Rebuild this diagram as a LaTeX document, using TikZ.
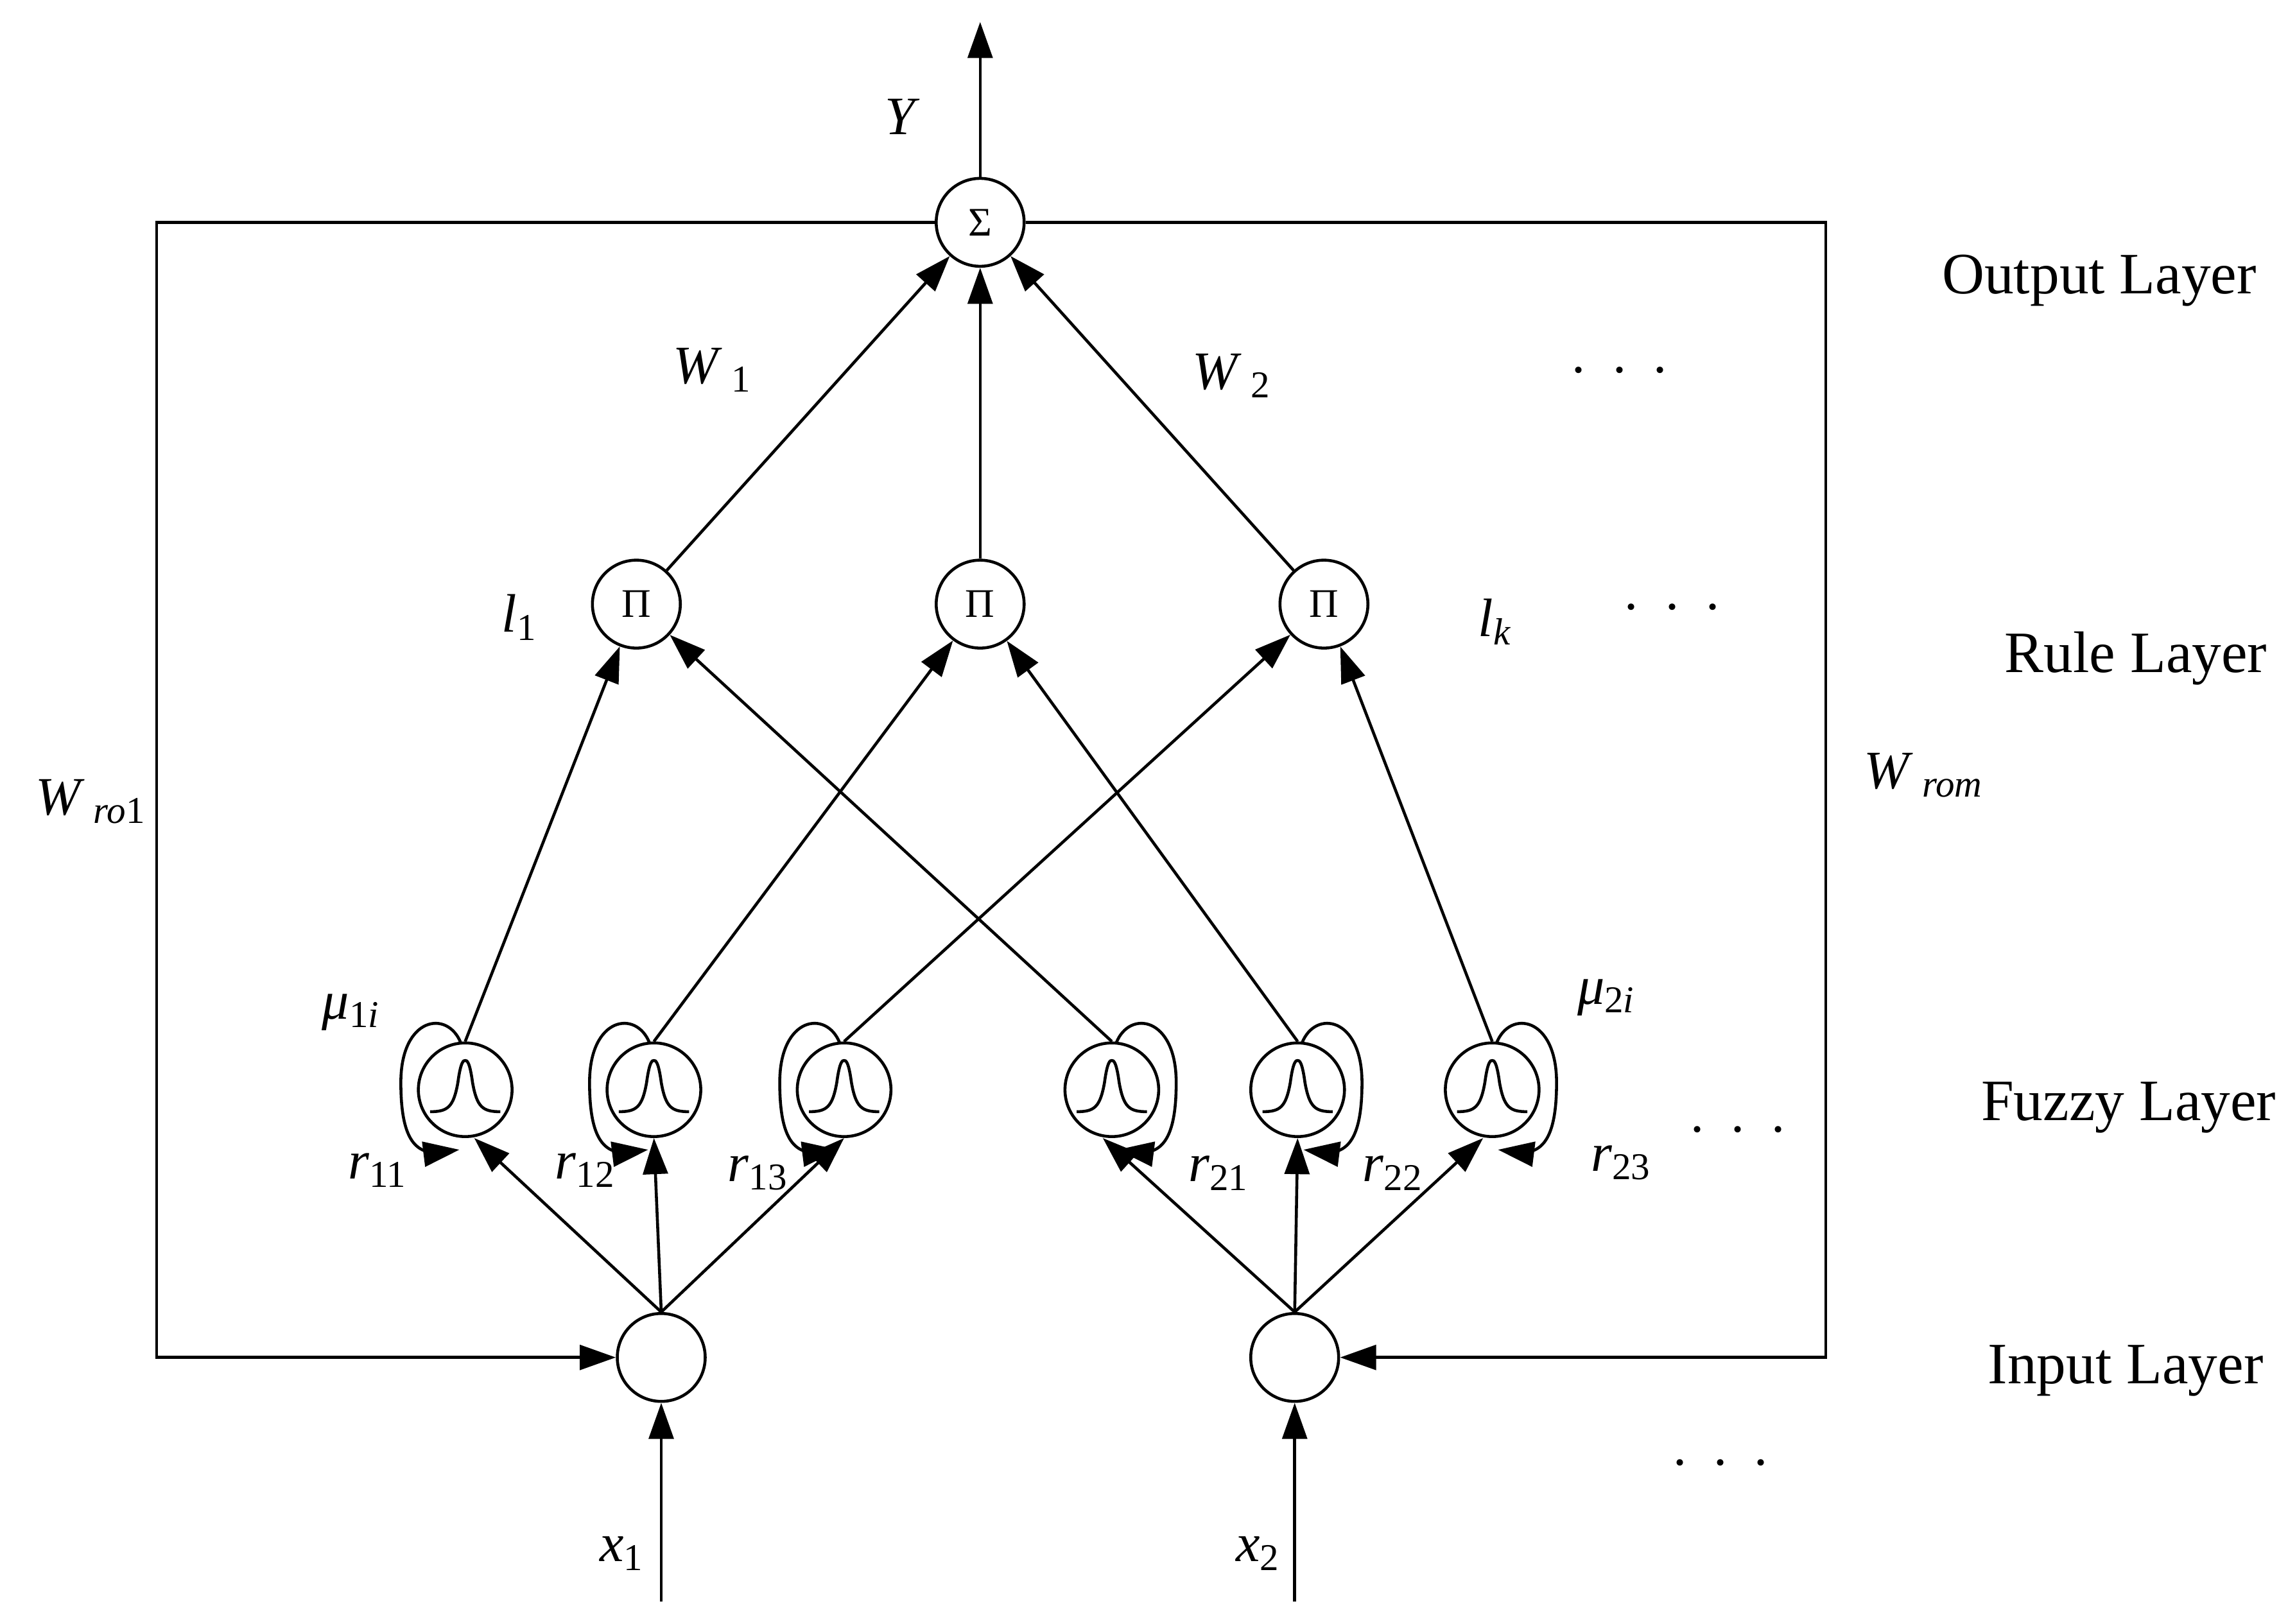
\documentclass[tikz,border=0pt]{standalone}
\usepackage{fontspec}
\setmainfont{Liberation Serif}
\usetikzlibrary{arrows.meta}
\begin{document}
\begin{tikzpicture}[x=0.02279cm,y=-0.02279cm,
  line width=1.3pt,
  arr/.style={-{Triangle[length=16pt,width=11pt]}},
  nd/.style={circle,draw,minimum size=1.37cm,inner sep=0pt,font=\fontsize{18}{20}\selectfont},
  fz/.style={circle,draw,minimum size=1.46cm,inner sep=0pt},
  lab/.style={font=\fontsize{24}{28}\selectfont},
  lay/.style={font=\fontsize{26}{30}\selectfont}]
\useasboundingbox (0,0) rectangle (1564,1110);
% nodes
\node[nd] (sig) at (670,152) {Σ};
\node[nd] (p1) at (435,413) {Π};
\node[nd] (p2) at (670,413) {Π};
\node[nd] (p3) at (905,413) {Π};
\foreach \n/\x in {1/318,2/447,3/577,4/760,5/887,6/1020}
  \node[fz] (f\n) at (\x,745) {};
\node[nd] (i1) at (452,928) {};
\node[nd] (i2) at (885,928) {};
\coordinate (top) at (670,15);
\coordinate (tl) at (107,152);
\coordinate (bl) at (107,928);
\coordinate (tr) at (1248,152);
\coordinate (br) at (1248,928);
\coordinate (x1s) at (452,1095);
\coordinate (x2s) at (885,1095);
% gaussians and loops
\foreach \n/\s in {1/1,2/1,3/1,4/-1,5/-1,6/-1}{
  \draw[shift={(f\n.center)}] (-24,15) .. controls (-12,15) and (-8,12) .. (-5,-5) .. controls (-3,-20) and (-1,-20) .. (0,-20)
     .. controls (1,-20) and (3,-20) .. (5,-5) .. controls (8,12) and (12,15) .. (24,15);
  \draw[arr,shift={(f\n.center)},xscale=\s] (-3,-32) .. controls (-12,-55) and (-44,-50) .. (-44,-5) .. controls (-44,30) and (-36,43) .. (-20,43) -- (-4,41);
}
% connectors
\draw[arr] (sig) -- (top);
\foreach \p in {p1,p2,p3} \draw[arr] (\p) -- (sig);
\draw[arr] (f1.north) -- (p1);
\draw[arr] (f2.north) -- (p2);
\draw[arr] (f3.north) -- (p3);
\draw[arr] (f4.north) -- (p1);
\draw[arr] (f5.north) -- (p2);
\draw[arr] (f6.north) -- (p3);
\draw[arr] (i1.north) -- ([xshift=4pt]f1.south);
\draw[arr] (i1.north) -- (f2.south);
\draw[arr] (i1.north) -- (f3.south);
\draw[arr] (i2.north) -- ([xshift=-4pt]f4.south);
\draw[arr] (i2.north) -- (f5.south);
\draw[arr] (i2.north) -- ([xshift=-4pt]f6.south);
\draw[arr] (sig.west) -- (tl) -- (bl) -- (i1.west);
\draw[arr] (sig.east) -- (tr) -- (br) -- (i2.east);
\draw[arr] (x1s) -- (i1);
\draw[arr] (x2s) -- (i2);
% labels
\node[lab] at (617,80) {\textit{Y}};
\node[lab] at (487,253) {\textit{W}\,\textsubscript{1}};
\node[lab] at (842,257) {\textit{W}\,\textsubscript{2}};
\node[lab] at (355,422) {\textit{l}\textsubscript{1}};
\node[lab] at (1022,425) {\textit{l}\textsubscript{\textit{k}}};
\node[lab] at (62,548) {\textit{W}\,\textsubscript{\textit{ro}1}};
\node[lab] at (1315,530) {\textit{W}\,\textsubscript{\textit{rom}}};
\node[lab] at (240,692) {\textit{μ}\textsubscript{1\textit{i}}};
\node[lab] at (1098,682) {\textit{μ}\textsubscript{2\textit{i}}};
\node[lab] at (258,800) {\textit{r}\textsubscript{11}};
\node[lab] at (400,800) {\textit{r}\textsubscript{12}};
\node[lab] at (518,802) {\textit{r}\textsubscript{13}};
\node[lab] at (833,802) {\textit{r}\textsubscript{21}};
\node[lab] at (952,802) {\textit{r}\textsubscript{22}};
\node[lab] at (1108,795) {\textit{r}\textsubscript{23}};
\node[lab] at (425,1062) {\textit{x}\textsubscript{1}};
\node[lab] at (860,1062) {\textit{x}\textsubscript{2}};
\foreach \x/\y in {1107/253,1143/415,1188/772,1176/1000}
  \node[lab] at (\x,\y) {.\,\,\,.\,\,\,.};
\node[lay] at (1435,192) {Output Layer};
\node[lay] at (1460,450) {Rule Layer};
\node[lay] at (1455,757) {Fuzzy Layer};
\node[lay] at (1453,937) {Input Layer};
\end{tikzpicture}
\end{document}
